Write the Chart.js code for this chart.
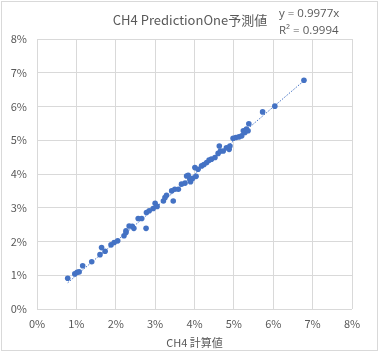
<!DOCTYPE html>
<html>
<head>
<meta charset="utf-8">
<script src="https://cdn.jsdelivr.net/npm/chart.js@4"></script>
<style>
  html, body { margin: 0; padding: 0; background: #fff; }
  #wrap { width: 380px; height: 352px; position: relative; }
</style>
</head>
<body>
<div id="wrap"><canvas id="chart" width="380" height="352"></canvas></div>
<script>
// CH4 calculated value (%)
var calcX = [0.78, 0.96, 1.02, 1.07, 1.16, 1.39, 1.60, 1.64, 1.73, 1.88,
             1.96, 2.05, 2.21, 2.26, 2.26, 2.34, 2.42, 2.46, 2.57, 2.66,
             2.77, 2.78, 2.85, 2.95, 3.00, 3.05, 3.21, 3.25, 3.29, 3.46,
             3.42, 3.50, 3.59, 3.67, 3.76, 3.80, 3.84, 3.88, 3.90, 3.95,
             4.01, 4.04, 4.09, 4.18, 4.24, 4.31, 4.37, 4.43, 4.52, 4.60,
             4.63, 4.66, 4.73, 4.81, 4.88, 4.90, 4.98, 5.05, 5.13, 5.20,
             5.24, 5.28, 5.32, 5.36, 5.38, 5.73, 6.04, 6.78];
// CH4 PredictionOne predicted value (%)
var predY = [0.91, 1.04, 1.09, 1.10, 1.28, 1.40, 1.61, 1.82, 1.71, 1.90,
             1.97, 2.02, 2.17, 2.27, 2.32, 2.46, 2.45, 2.39, 2.68, 2.68,
             2.39, 2.86, 2.91, 2.98, 3.13, 3.04, 3.20, 3.30, 3.37, 3.20,
             3.50, 3.55, 3.55, 3.70, 3.73, 3.94, 3.96, 3.85, 3.77, 3.87,
             4.19, 3.93, 4.14, 4.24, 4.28, 4.34, 4.41, 4.44, 4.49, 4.61,
             4.83, 4.68, 4.68, 4.78, 4.73, 4.83, 5.06, 5.08, 5.10, 5.13,
             5.28, 5.23, 5.33, 5.28, 5.49, 5.84, 6.01, 6.78];

var slope = 0.9977;
var r2 = 0.9994;
var titleText = "CH4 PredictionOne予測値";
var xTitle = "CH4 計算値";

var pts = [];
for (var i = 0; i < calcX.length; i++) {
      pts.push({x: calcX[i], y: predY[i]});
}
var xMin = Math.min.apply(null, calcX);
var xMax = Math.max.apply(null, calcX);
var trend = [{x: xMin, y: slope * xMin}, {x: xMax, y: slope * xMax}];

var FONT = "'Noto Sans CJK JP', 'Noto Sans', sans-serif";
var GREY = "#595959";
var BLUE = "#4472C4";

// title, equation and outer frame
var decor = {
      id: "decor",
      beforeDraw: function(chart) {
            var c = chart.ctx;
            c.save();
            c.fillStyle = "#fff";
            c.fillRect(0, 0, chart.width, chart.height);
            c.restore();
      },
      afterDraw: function(chart) {
            var c = chart.ctx;
            c.save();
            c.strokeStyle = "#d9d9d9";
            c.lineWidth = 1;
            c.strokeRect(1.5, 1.5, chart.width - 4, chart.height - 3);

            c.fillStyle = GREY;
            c.textBaseline = "middle";
            c.textAlign = "center";
            c.font = "13px " + FONT;
            c.fillText(titleText, 190, 20);

            c.textAlign = "left";
            c.font = "11.5px 'Open Sans', " + FONT;
            c.fillText("y = " + slope + "x", 279, 14);
            c.fillText("R² = " + r2, 279, 31);
            c.restore();
      }
};

var ctx = document.getElementById("chart");
var chart = new Chart(ctx, {
      type: "scatter",
      data: {
            datasets: [
            {
                  label: "data",
                  data: pts,
                  backgroundColor: BLUE,
                  borderColor: BLUE,
                  pointRadius: 2.8,
                  pointBorderWidth: 0
            },
            {
                  type: "line",
                  label: "trend",
                  data: trend,
                  borderColor: BLUE,
                  borderWidth: 1,
                  borderDash: [1.5, 1.5],
                  pointRadius: 0,
                  fill: false
            }]
      },
      options: {
            responsive: false,
            animation: false,
            layout: { padding: { left: 0, right: 28, top: 39, bottom: 0 } },
            plugins: {
                  legend: { display: false },
                  title: { display: false },
                  tooltip: { enabled: false }
            },
            scales: {
                  x: {
                        type: "linear",
                        min: 0, max: 8,
                        grid: { color: "#d9d9d9", drawTicks: false },
                        border: { display: false },
                        ticks: {
                              stepSize: 1, padding: 8, color: GREY,
                              font: { family: FONT, size: 11 },
                              callback: function(v) { return v + "%"; }
                        },
                        title: {
                              display: true, text: xTitle, color: GREY,
                              font: { family: FONT, size: 11 },
                              padding: { top: 2, bottom: 3 }
                        },
                        afterFit: function(s) { s.height = 43; }
                  },
                  y: {
                        type: "linear",
                        min: 0, max: 8,
                        grid: { color: "#d9d9d9", drawTicks: false },
                        border: { display: false },
                        ticks: {
                              stepSize: 1, padding: 10, color: GREY,
                              font: { family: FONT, size: 11 },
                              callback: function(v) { return v + "%"; }
                        },
                        afterFit: function(s) { s.width = 37; }
                  }
            }
      },
      plugins: [decor]
});
</script>
</body>
</html>
